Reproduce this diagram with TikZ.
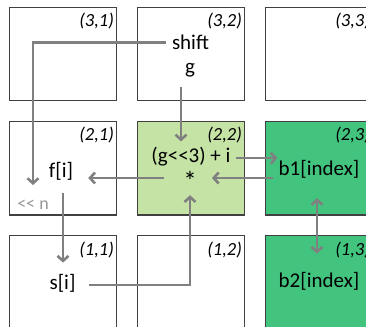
\documentclass[tikz,border=0pt]{standalone}
\usepackage{fontspec}
\setmainfont{Carlito}
\usetikzlibrary{positioning, arrows.meta}
\definecolor{linegray}{RGB}{128,128,128}
\definecolor{shiftgray}{RGB}{150,150,150}
\definecolor{lightgreen}{RGB}{198,227,166}
\definecolor{darkgreen}{RGB}{66,196,126}
\tikzset{>={Straight Barb[length=5pt,width=11pt]}, node distance=128pt,
  cell/.style={rectangle, draw=black!75, line width=1.2pt, minimum width=107pt, minimum height=93.5pt, inner sep=0pt},
  txt/.style={font=\fontsize{21}{24}\selectfont, inner sep=0pt, anchor=base},
  idx/.style={font=\fontsize{18.5}{20}\selectfont\itshape, inner sep=0pt, anchor=base east},
  conn/.style={->, draw=linegray, line width=2.6pt}}

\begin{document}
\begin{tikzpicture}
    \useasboundingbox (0,0) rectangle (366pt,-326pt);
    \clip (0,0) rectangle (366pt,-326pt);
        \node[cell] (c31) at (63pt,-54pt) {};
        \node[cell, right of=c31] (c32) {};
        \node[cell, right of=c32] (c33) {};
        \node[cell, below of=c31, node distance=114.3pt] (c21) {};
        \node[cell, fill=lightgreen, right of=c21] (c22) {};
        \node[cell, fill=darkgreen, right of=c22] (c23) {};
        \node[cell, below of=c21, node distance=114.3pt] (c11) {};
        \node[cell, right of=c11] (c12) {};
        \node[cell, fill=darkgreen, right of=c12] (c13) {};

        \node[idx] (l31) at ([xshift=-3pt,yshift=-20pt]c31.north east) {(3,1)};
        \node[idx] (l32) at ([xshift=-3pt,yshift=-20pt]c32.north east) {(3,2)};
        \node[idx] (l33) at ([xshift=-3pt,yshift=-20pt]c33.north east) {(3,3)};
        \node[idx] (l21) at ([xshift=-3pt,yshift=-20pt]c21.north east) {(2,1)};
        \node[idx] (l22) at ([xshift=-3pt,yshift=-20pt]c22.north east) {(2,2)};
        \node[idx] (l23) at ([xshift=-3pt,yshift=-20pt]c23.north east) {(2,3)};
        \node[idx] (l11) at ([xshift=-3pt,yshift=-20pt]c11.north east) {(1,1)};
        \node[idx] (l12) at ([xshift=-3pt,yshift=-20pt]c12.north east) {(1,2)};
        \node[idx] (l13) at ([xshift=-3pt,yshift=-20pt]c13.north east) {(1,3)};

        \node[txt] (shift) at (190.5pt,-50pt) {shift};
        \node[txt] (g) at (190pt,-74pt) {g};
        \node[txt] (expr) at (191pt,-162pt) {(g<\kern0pt<3) + i};
        \node[txt, font=\fontsize{27}{30}\selectfont] (star) at (190pt,-190pt) {*};
        \node[txt] (fi) at (61pt,-177pt) {f[i]};
        \node[txt, text=shiftgray, font=\fontsize{18}{20}\selectfont] (shl) at (33pt,-209pt) {<\kern0pt< n};
        \node[txt] (bone) at (319pt,-175pt) {b1[index]};
        \node[txt] (si) at (62.5pt,-289pt) {s[i]};
        \node[txt] (btwo) at (319pt,-287pt) {b2[index]};
        \coordinate (shiftend) at (33pt,-185pt);

        \draw[conn, shorten <=6pt] (shift.west) -| (shiftend);
        \draw[conn, shorten <=9pt, shorten >=5pt] ([xshift=-9pt]g.south) -- ([xshift=-9pt]g.south |- expr.north);
        \draw[conn, shorten <=5pt, shorten >=1pt] ([yshift=-2pt]expr.east) -- ([yshift=-2pt]expr.east -| bone.west);
        \draw[conn, shorten <=5pt, shorten >=15pt] ([yshift=12pt]star.base east -| bone.west) -- ([yshift=12pt]star.base east);
        \draw[conn, shorten <=19pt, shorten >=15pt] ([yshift=12pt]star.base west) -- ([yshift=12pt]star.base west -| fi.east);
        \draw[conn, shorten <=13pt, shorten >=11pt] ([xshift=2pt]fi.south) -- ([xshift=2pt]fi.south |- si.north);
        \draw[conn, shorten <=13pt, shorten >=5pt] ([yshift=-2pt]si.east) -| (star.south);
        \draw[conn, <->, shorten <=20pt, shorten >=18pt] ([xshift=-2pt]bone.south) -- ([xshift=-2pt]bone.south |- btwo.north);
    \end{tikzpicture}
\end{document}
